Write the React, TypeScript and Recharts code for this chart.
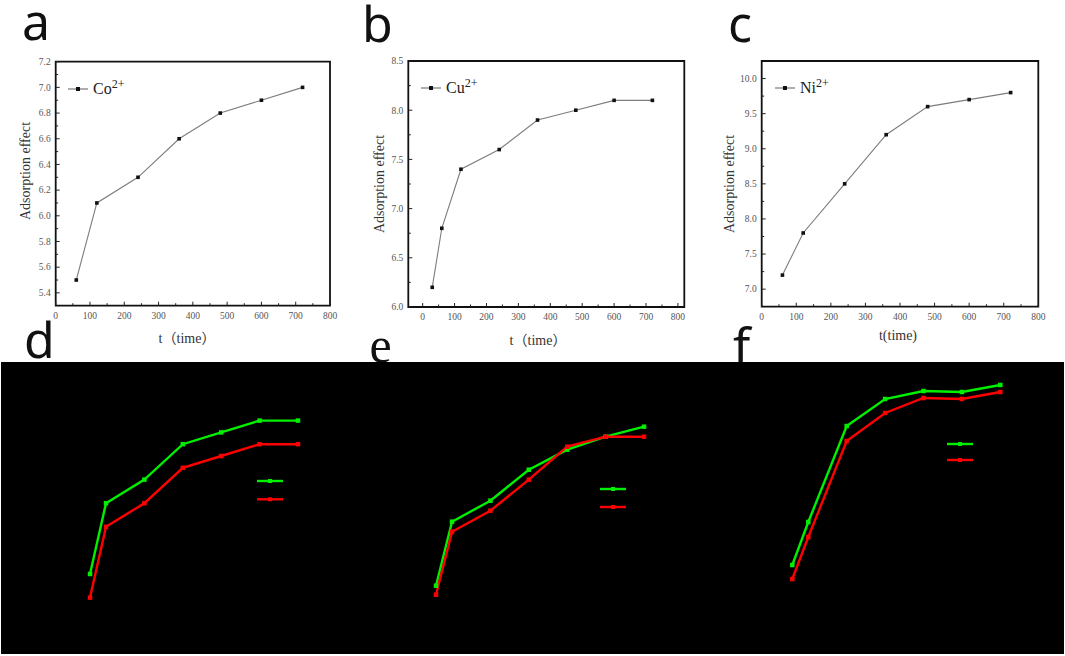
import { LineChart, Line, XAxis, YAxis, Legend, ReferenceArea } from 'recharts'

// top row: adsorption effect against time
const coTime = [60, 120, 240, 360, 480, 600, 720]
const coValues = [5.5, 6.1, 6.3, 6.6, 6.8, 6.9, 7.0]
const cuTime = [30, 60, 120, 240, 360, 480, 600, 720]
const cuValues = [6.2, 6.8, 7.4, 7.6, 7.9, 8.0, 8.1, 8.1]
const niTime = [60, 120, 240, 360, 480, 600, 720]
const niValues = [7.2, 7.8, 8.5, 9.2, 9.6, 9.7, 9.8]

const timeMajor = [0, 100, 200, 300, 400, 500, 600, 700, 800]
const timeMinor = [50, 150, 250, 350, 450, 550, 650, 750]
const coMajor = [5.4, 5.6, 5.8, 6.0, 6.2, 6.4, 6.6, 6.8, 7.0, 7.2]
const coMinor = [5.5, 5.7, 5.9, 6.1, 6.3, 6.5, 6.7, 6.9, 7.1]
const cuMajor = [6.0, 6.5, 7.0, 7.5, 8.0, 8.5]
const cuMinor = [6.25, 6.75, 7.25, 7.75, 8.25]
const niMajor = [7.0, 7.5, 8.0, 8.5, 9.0, 9.5, 10.0]
const niMinor = [7.25, 7.75, 8.25, 8.75, 9.25, 9.75]

// bottom row: black panels, only the coloured lines show
const shadeTime = [60, 110, 230, 350, 470, 590, 710]
const dGreen = [5.5, 6.1, 6.3, 6.6, 6.7, 6.8, 6.8]
const dRed = [5.3, 5.9, 6.1, 6.4, 6.5, 6.6, 6.6]
const eGreen = [6.2, 6.84, 7.05, 7.36, 7.56, 7.69, 7.79]
const eRed = [6.11, 6.74, 6.95, 7.26, 7.59, 7.69, 7.69]
const fGreen = [7.2, 7.63, 8.59, 8.86, 8.94, 8.93, 9.0]
const fRed = [7.06, 7.48, 8.44, 8.72, 8.87, 8.86, 8.93]

const SERIF = "'Liberation Serif', 'Times New Roman', 'Noto Sans CJK SC', serif"
const SANS = "'Noto Sans', 'Open Sans', sans-serif"

type Margin = { top: number; right: number; bottom: number; left: number }
type Pt = { x: number; y: number }

const squareDot = (fill: string, size: number) => (p: any) => (
  <rect key={`dot-${p.index}`} x={p.cx - size / 2} y={p.cy - size / 2} width={size} height={size} fill={fill} />
)

const xTick = (majors: number[]) => (p: any) => {
  const major = majors.includes(p.payload.value)
  return (
    <g key={`xt-${p.index}`}>
      <line x1={p.x} x2={p.x} y1={p.y} y2={p.y - (major ? 4 : 2.5)} stroke='#222' />
      {major && (
        <text x={p.x} y={p.y + 13} textAnchor='middle' fontSize={9.5} fill='#555' fontFamily={SERIF}>
          {p.payload.value}
        </text>
      )}
    </g>
  )
}

const yTick = (majors: number[]) => (p: any) => {
  const major = majors.includes(p.payload.value)
  return (
    <g key={`yt-${p.index}`}>
      <line x1={p.x} x2={p.x + (major ? 4 : 2.5)} y1={p.y} y2={p.y} stroke='#222' />
      {major && (
        <text x={p.x - 5} y={p.y} dy='0.35em' textAnchor='end' fontSize={9.5} fill='#555' fontFamily={SERIF}>
          {p.payload.value.toFixed(1)}
        </text>
      )}
    </g>
  )
}

interface TopPanelProps {
  left: number
  width: number
  margin: Margin
  time: number[]
  values: number[]
  xDomain: [number, number]
  yDomain: [number, number]
  yMajor: number[]
  yMinor: number[]
  ion: string
  legendAt: Pt
  yTitleAt: Pt
  xTitle: string
  xTitleAt: Pt
}

function TopPanel(props: TopPanelProps) {
  const { left, width, margin, time, values, xDomain, yDomain, yMajor, yMinor, ion, legendAt, yTitleAt, xTitle, xTitleAt } = props
  const data = time.map((t, i) => ({ t, v: values[i] }))
  const yTicks = [...yMajor, ...yMinor].sort((a, b) => a - b)
  const xTicks = [...timeMajor, ...timeMinor].sort((a, b) => a - b)
  return (
    <div style={{ position: 'absolute', left, top: 0 }}>
      <LineChart width={width} height={360} data={data} margin={margin}>
        <XAxis
          type='number'
          dataKey='t'
          domain={xDomain}
          ticks={xTicks}
          interval={0}
          height={30}
          tickSize={0}
          tickMargin={0}
          axisLine={false}
          tickLine={false}
          tick={xTick(timeMajor)}
          label={{
            content: () => (
              <text x={xTitleAt.x} y={xTitleAt.y} textAnchor='middle' fontSize={14} fill='#333' fontFamily={SERIF}>
                {xTitle}
              </text>
            ),
          }}
        />
        <YAxis
          type='number'
          domain={yDomain}
          ticks={yTicks}
          interval={0}
          width={30}
          tickSize={0}
          tickMargin={0}
          axisLine={false}
          tickLine={false}
          tick={yTick(yMajor)}
          label={{
            content: () => (
              <text
                x={yTitleAt.x}
                y={yTitleAt.y}
                dy='0.35em'
                transform={`rotate(-90 ${yTitleAt.x} ${yTitleAt.y})`}
                textAnchor='middle'
                fontSize={14}
                fill='#333'
                fontFamily={SERIF}
              >
                Adsorption effect
              </text>
            ),
          }}
        />
        <ReferenceArea x1={xDomain[0]} x2={xDomain[1]} y1={yDomain[0]} y2={yDomain[1]} fill='none' stroke='#111' strokeWidth={1.8} />
        <Legend
          verticalAlign='middle'
          align='center'
          layout='horizontal'
          wrapperStyle={{ left: legendAt.x, top: legendAt.y - 10, width: 'auto', height: 20 }}
          content={() => (
            <div style={{ display: 'flex', alignItems: 'center', height: 20, fontFamily: SERIF, fontSize: 16, color: '#222' }}>
              <svg width={20} height={8}>
                <line x1={0} x2={20} y1={4} y2={4} stroke='#777' strokeWidth={1.2} />
                <rect x={8} y={2} width={4} height={4} fill='#111' />
              </svg>
              <span style={{ marginLeft: 5 }}>
                {ion}
                <span style={{ fontSize: 12, position: 'relative', top: -6 }}>2+</span>
              </span>
            </div>
          )}
        />
        <Line
          type='linear'
          dataKey='v'
          name={ion}
          stroke='#7d7d7d'
          strokeWidth={1.1}
          dot={squareDot('#111', 3.6)}
          activeDot={false}
          isAnimationActive={false}
        />
      </LineChart>
    </div>
  )
}

interface ShadePanelProps {
  left: number
  width: number
  margin: Margin
  yDomain: [number, number]
  green: number[]
  red: number[]
  legendAt: Pt
  legendGap: number
}

function ShadePanel({ left, width, margin, yDomain, green, red, legendAt, legendGap }: ShadePanelProps) {
  const data = shadeTime.map((t, i) => ({ t, green: green[i], red: red[i] }))
  return (
    <div style={{ position: 'absolute', left, top: 362 }}>
      <LineChart width={width} height={292} data={data} margin={margin}>
        <XAxis type='number' dataKey='t' domain={[0, 800]} hide />
        <YAxis type='number' domain={yDomain} hide />
        <Legend
          verticalAlign='middle'
          align='center'
          layout='horizontal'
          wrapperStyle={{ left: legendAt.x, top: legendAt.y - 4, width: 26, height: legendGap + 8 }}
          content={(lp: any) => (
            <svg width={26} height={legendGap + 8}>
              {(lp.payload || []).map((entry: any, i: number) => (
                <g key={entry.value}>
                  <line x1={0} x2={26} y1={4 + i * legendGap} y2={4 + i * legendGap} stroke={entry.color} strokeWidth={2.4} />
                  <rect x={11} y={2 + i * legendGap} width={4} height={4} fill={entry.color} />
                </g>
              ))}
            </svg>
          )}
        />
        <Line type='linear' dataKey='green' name='green' stroke='#00f000' strokeWidth={2.4} dot={squareDot('#00f000', 4.5)} activeDot={false} isAnimationActive={false} />
        <Line type='linear' dataKey='red' name='red' stroke='#ff0000' strokeWidth={2.4} dot={squareDot('#ff0000', 4.5)} activeDot={false} isAnimationActive={false} />
      </LineChart>
    </div>
  )
}

export default function App() {
  return (
    <div style={{ position: 'absolute', left: 0, top: 0, width: 1065, height: 656, background: '#fff', overflow: 'hidden' }}>
      <TopPanel
        left={0}
        width={355}
        margin={{ top: 61.7, right: 25, bottom: 24.3, left: 25.7 }}
        time={coTime}
        values={coValues}
        xDomain={[0, 800]}
        yDomain={[5.3, 7.2]}
        yMajor={coMajor}
        yMinor={coMinor}
        ion='Co'
        legendAt={{ x: 68, y: 88.7 }}
        yTitleAt={{ x: 25, y: 171 }}
        xTitle='t（time）'
        xTitleAt={{ x: 187, y: 343 }}
      />
      <TopPanel
        left={355}
        width={350}
        margin={{ top: 61, right: 20.7, bottom: 23, left: 23.3 }}
        time={cuTime}
        values={cuValues}
        xDomain={[-45, 820]}
        yDomain={[6.0, 8.5]}
        yMajor={cuMajor}
        yMinor={cuMinor}
        ion='Cu'
        legendAt={{ x: 66, y: 88.3 }}
        yTitleAt={{ x: 24, y: 184 }}
        xTitle='t（time）'
        xTitleAt={{ x: 183, y: 345 }}
      />
      <TopPanel
        left={705}
        width={360}
        margin={{ top: 61, right: 26.7, bottom: 23.3, left: 26.7 }}
        time={niTime}
        values={niValues}
        xDomain={[0, 800]}
        yDomain={[6.75, 10.25]}
        yMajor={niMajor}
        yMinor={niMinor}
        ion='Ni'
        legendAt={{ x: 70, y: 87.7 }}
        yTitleAt={{ x: 24, y: 184 }}
        xTitle='t(time)'
        xTitleAt={{ x: 193, y: 340 }}
      />
      <svg width={1065} height={400} style={{ position: 'absolute', left: 0, top: 0, pointerEvents: 'none' }}>
        <g fontSize={50} fill='#111' fontFamily={SANS}>
          <text x={22} y={40}>a</text>
          <text x={362} y={42}>b</text>
          <text x={728} y={42}>c</text>
          <text x={24} y={357.5}>d</text>
          <text x={369.5} y={361.5} fontFamily={SERIF}>e</text>
          <text x={733} y={364}>f</text>
        </g>
      </svg>
      <div style={{ position: 'absolute', left: 1, top: 362, width: 1063, height: 292, background: '#000' }} />
      <ShadePanel
        left={0}
        width={355}
        margin={{ top: 11.4, right: 28.2, bottom: 44.6, left: 70.8 }}
        yDomain={[5.2, 7.2]}
        green={dGreen}
        red={dRed}
        legendAt={{ x: 257, y: 118.7 }}
        legendGap={18.3}
      />
      <ShadePanel
        left={355}
        width={350}
        margin={{ top: 33.7, right: 32.2, bottom: 38.3, left: 61.8 }}
        yDomain={[5.9, 8.1]}
        green={eGreen}
        red={eRed}
        legendAt={{ x: 245, y: 127 }}
        legendGap={18}
      />
      <ShadePanel
        left={705}
        width={358}
        margin={{ top: 3, right: 33.9, bottom: 59, left: 68.1 }}
        yDomain={[6.9, 9.2]}
        green={fGreen}
        red={fRed}
        legendAt={{ x: 242, y: 82 }}
        legendGap={16}
      />
    </div>
  )
}
